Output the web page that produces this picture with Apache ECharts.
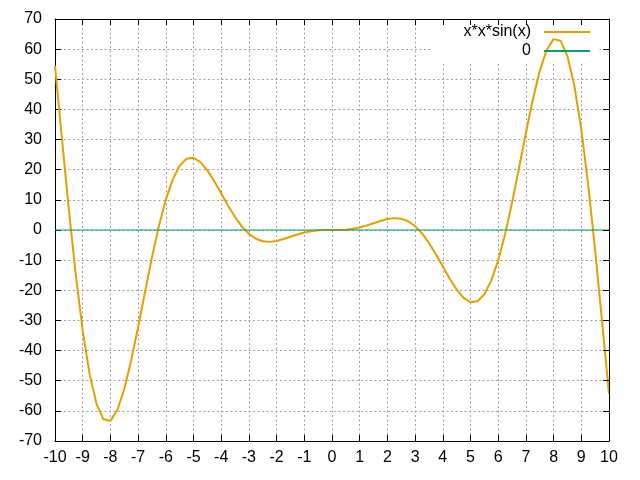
<!DOCTYPE html>
<html>
<head>
<meta charset="utf-8">
<script src="https://cdn.jsdelivr.net/npm/echarts@6/dist/echarts.min.js"></script>
<style>html,body{margin:0;padding:0;background:#fff}#c{width:640px;height:480px}</style>
</head>
<body>
<div id="c"></div>
<script>
var xs = [-10,-9.75,-9.5,-9.25,-9,-8.75,-8.5,-8.25,-8,-7.75,-7.5,-7.25,-7,-6.75,-6.5,-6.25,-6,-5.75,-5.5,-5.25,-5,-4.75,-4.5,-4.25,-4,-3.75,-3.5,-3.25,-3,-2.75,-2.5,-2.25,-2,-1.75,-1.5,-1.25,-1,-0.75,-0.5,-0.25,0,0.25,0.5,0.75,1,1.25,1.5,1.75,2,2.25,2.5,2.75,3,3.25,3.5,3.75,4,4.25,4.5,4.75,5,5.25,5.5,5.75,6,6.25,6.5,6.75,7,7.25,7.5,7.75,8,8.25,8.5,8.75,9,9.25,9.5,9.75,10];
var curveValues = [54.40,30.37,6.79,-14.91,-33.38,-47.83,-57.69,-62.81,-63.32,-59.74,-52.76,-43.27,-32.19,-20.50,-9.09,1.30,10.06,16.81,21.34,23.67,23.97,22.55,19.79,16.17,12.11,8.04,4.30,1.14,-1.27,-2.89,-3.74,-3.94,-3.64,-3.01,-2.24,-1.48,-0.84,-0.38,-0.12,-0.02,0,0.02,0.12,0.38,0.84,1.48,2.24,3.01,3.64,3.94,3.74,2.89,1.27,-1.14,-4.30,-8.04,-12.11,-16.17,-19.79,-22.55,-23.97,-23.67,-21.34,-16.81,-10.06,-1.30,9.09,20.50,32.19,43.27,52.76,59.74,63.32,62.81,57.69,47.83,33.38,14.91,-6.79,-30.37,-54.40];
var zeroXs = [-10, 10];
var zeroValues = [0, 0];
var seriesNames = ['x*x*sin(x)', '0'];

var curveData = xs.map(function (x, i) { return [x, curveValues[i]]; });
var zeroData = zeroXs.map(function (x, i) { return [x, zeroValues[i]]; });

var font = 'Liberation Sans, Arial, sans-serif';
var gridLine = { show: true, lineStyle: { color: '#a0a0a0', width: 1, type: [2, 2.5] } };
var axisLine = { show: true, onZero: false, lineStyle: { color: '#000', width: 1 } };
var tick = { show: true, inside: true, length: 6, lineStyle: { color: '#000', width: 1 } };
var keyIcon = 'path://M0,0H46V2H0Z';

var chart = echarts.init(document.getElementById('c'), null, { renderer: 'canvas' });
chart.setOption({
  animation: false,
  backgroundColor: '#fff',
  grid: { left: 55, right: 31, top: 19, bottom: 39 },
  graphic: [{
    type: 'rect', z: 1, silent: true,
    shape: { x: 433, y: 20, width: 165, height: 44 },
    style: { fill: '#fff' }
  }],
  legend: {
    orient: 'vertical', align: 'right', right: 50, top: 23, padding: 0,
    selectedMode: false, itemWidth: 46, itemHeight: 2, itemGap: 1,
    textStyle: { fontFamily: font, fontSize: 16, color: '#000', lineHeight: 18, padding: [0, 8, 0, 0] },
    data: [
      { name: seriesNames[0], icon: keyIcon, itemStyle: { color: '#e69f00' } },
      { name: seriesNames[1], icon: keyIcon, itemStyle: { color: '#009e73' } }
    ]
  },
  xAxis: [{
    type: 'value', min: -10, max: 10, interval: 1, position: 'bottom', z: 0,
    axisLine: axisLine, axisTick: tick, splitLine: gridLine,
    axisLabel: { fontFamily: font, fontSize: 16, color: '#000', margin: 9 }
  }, {
    type: 'value', min: -10, max: 10, interval: 1, position: 'top', z: 3,
    axisLine: axisLine, axisTick: tick, splitLine: { show: false }, axisLabel: { show: false }
  }],
  yAxis: [{
    type: 'value', min: -70, max: 70, interval: 10, position: 'left', z: 0,
    axisLine: axisLine, axisTick: tick, splitLine: gridLine,
    axisLabel: { fontFamily: font, fontSize: 16, color: '#000', margin: 13 }
  }, {
    type: 'value', min: -70, max: 70, interval: 10, position: 'right', z: 3,
    axisLine: axisLine, axisTick: tick, splitLine: { show: false }, axisLabel: { show: false }
  }],
  series: [{
    name: seriesNames[0], type: 'line', data: curveData, xAxisIndex: 0, yAxisIndex: 0,
    showSymbol: false, symbol: 'none', smooth: false, z: 2,
    lineStyle: { color: '#e69f00', width: 2 }, itemStyle: { color: '#e69f00' }
  }, {
    name: seriesNames[1], type: 'line', data: zeroData, xAxisIndex: 0, yAxisIndex: 0,
    showSymbol: false, symbol: 'none', z: 2,
    lineStyle: { color: '#009e73', width: 1.2 }, itemStyle: { color: '#009e73' }
  }]
});
</script>
</body>
</html>
